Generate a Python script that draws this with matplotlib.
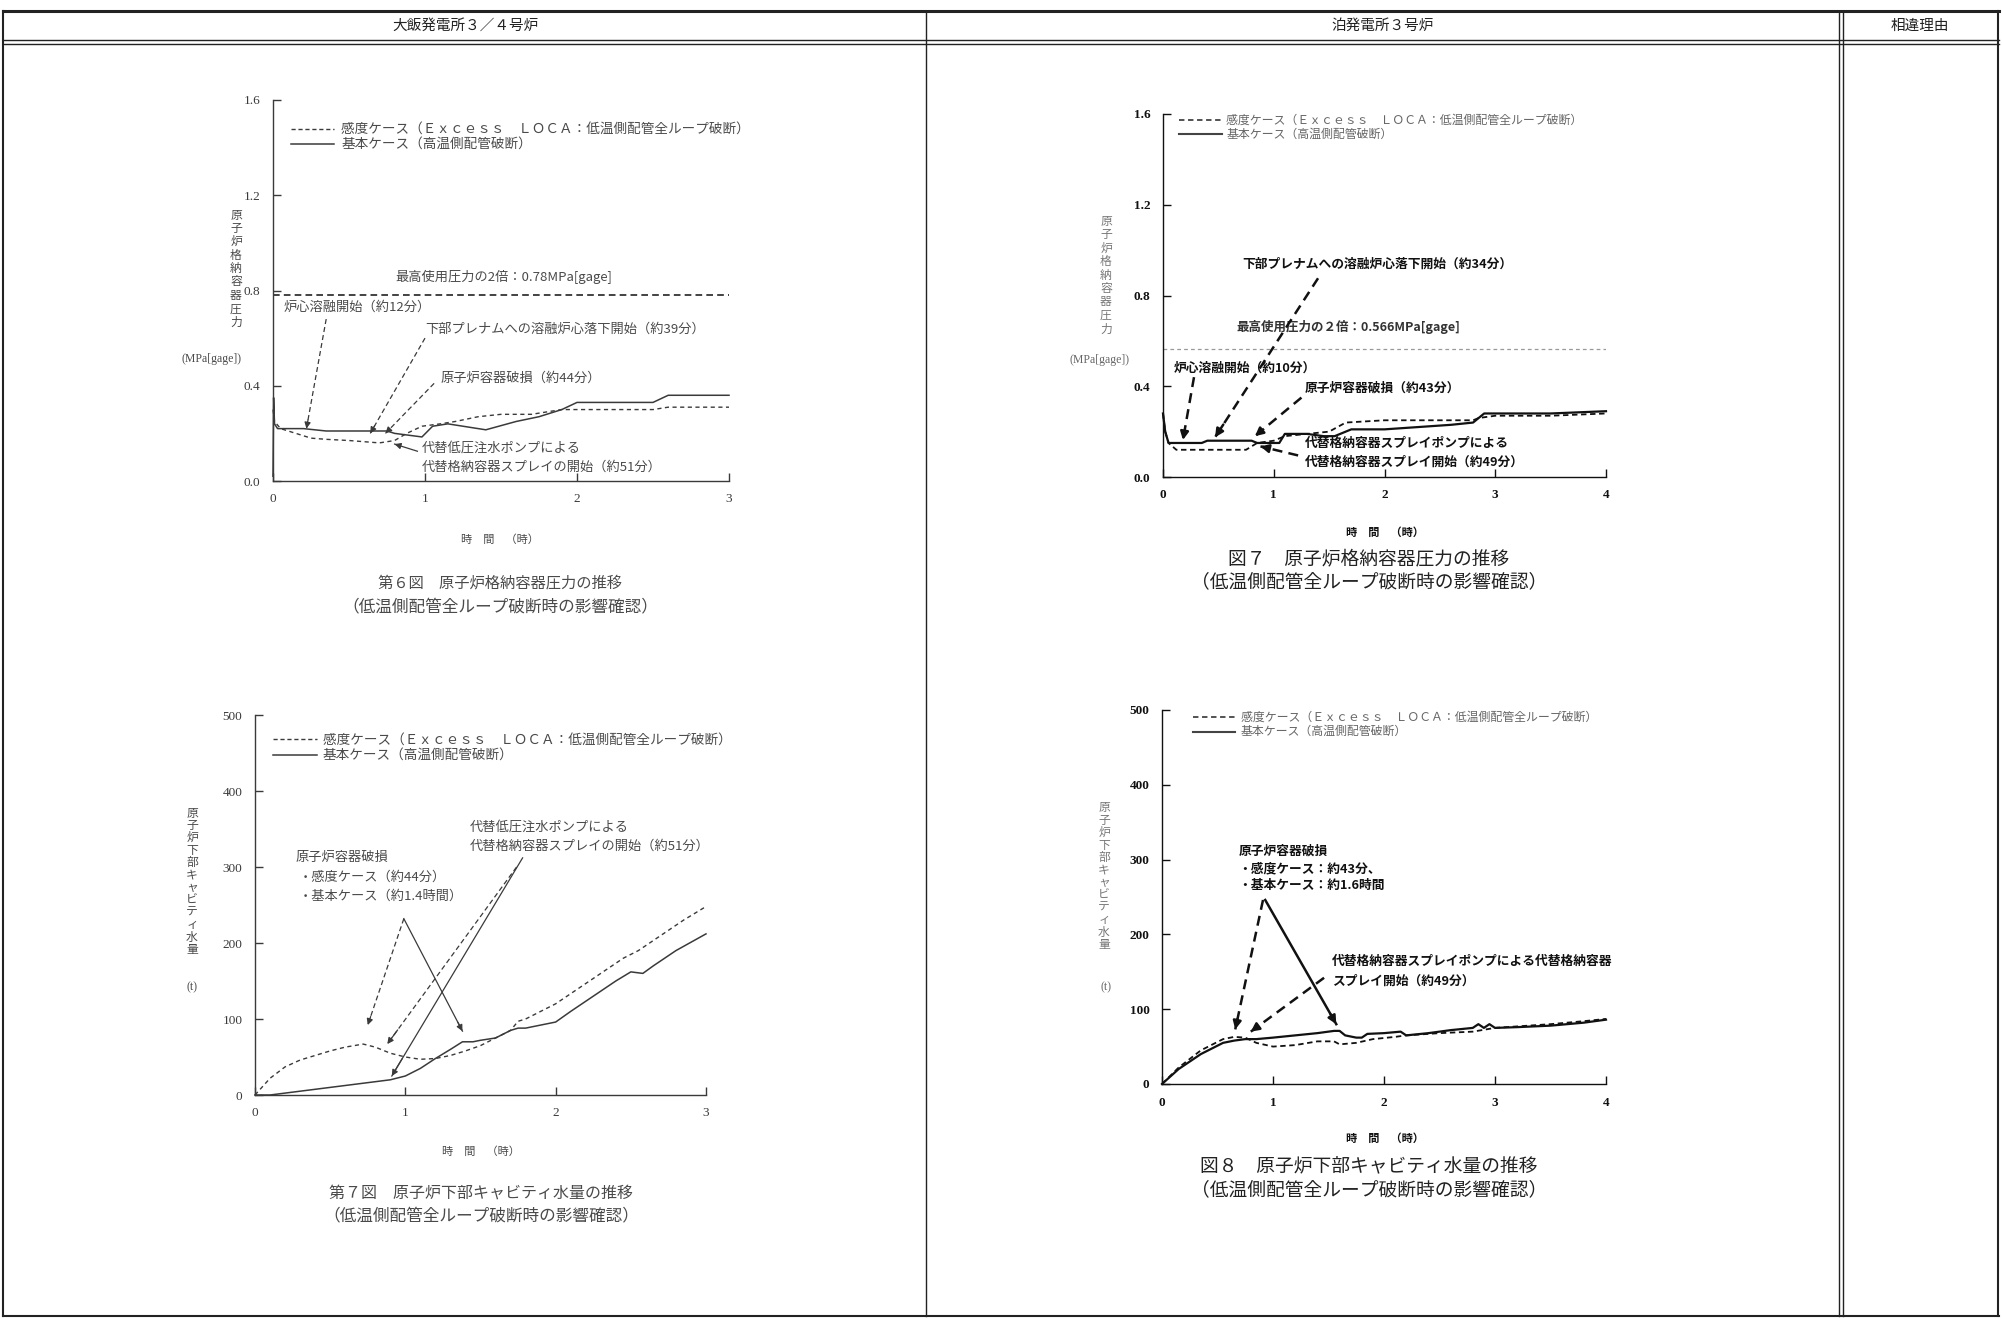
import matplotlib
matplotlib.use("Agg")
import matplotlib.pyplot as plt
from matplotlib.lines import Line2D

plt.rcParams['font.family'] = ['Noto Sans CJK JP', 'DejaVu Sans']

W, H = 2002, 1319

# ---------------- data ----------------
# 大飯 pressure (第6図)
oi_p_base_t = [0, 0.004, 0.01, 0.03, 0.2, 0.35, 0.75, 0.8, 0.98, 1.05, 1.15, 1.25, 1.4, 1.6, 1.75, 1.9, 2.0, 2.5, 2.6, 3.0]
oi_p_base = [0.02, 0.35, 0.24, 0.22, 0.22, 0.21, 0.21, 0.20, 0.185, 0.23, 0.24, 0.23, 0.215, 0.25, 0.27, 0.30, 0.33, 0.33, 0.36, 0.36]
oi_p_sens_t = [0, 0.01, 0.05, 0.15, 0.25, 0.35, 0.5, 0.7, 0.8, 0.88, 0.98, 1.1, 1.2, 1.35, 1.5, 1.7, 1.9, 2.0, 2.5, 2.6, 3.0]
oi_p_sens = [0.30, 0.25, 0.22, 0.20, 0.18, 0.175, 0.17, 0.16, 0.17, 0.20, 0.23, 0.24, 0.25, 0.27, 0.28, 0.28, 0.30, 0.30, 0.30, 0.31, 0.31]
oi_p_limit = 0.78

# 泊 pressure (図7)
to_p_base_t = [0, 0.02, 0.05, 0.35, 0.4, 0.8, 0.85, 1.05, 1.1, 1.3, 1.45, 1.55, 1.7, 2.0, 2.3, 2.6, 2.8, 2.9, 3.5, 4.0]
to_p_base = [0.28, 0.20, 0.15, 0.15, 0.16, 0.16, 0.15, 0.15, 0.19, 0.19, 0.18, 0.18, 0.21, 0.21, 0.22, 0.23, 0.24, 0.28, 0.28, 0.29]
to_p_sens_t = [0, 0.02, 0.05, 0.12, 0.75, 0.85, 1.0, 1.1, 1.3, 1.5, 1.65, 2.0, 2.8, 2.85, 3.0, 3.5, 4.0]
to_p_sens = [0.28, 0.20, 0.15, 0.12, 0.12, 0.15, 0.16, 0.18, 0.19, 0.20, 0.24, 0.25, 0.25, 0.26, 0.27, 0.27, 0.28]
to_p_limit = 0.566

# 大飯 cavity water (第7図)
oi_w_sens_t = [0, 0.1, 0.2, 0.3, 0.4, 0.5, 0.6, 0.72, 0.8, 0.9, 1.0, 1.1, 1.2, 1.3, 1.4, 1.5, 1.6, 1.7, 1.75, 1.8, 1.85, 1.95, 2.0, 2.15, 2.3, 2.45, 2.55, 2.7, 2.85, 3.0]
oi_w_sens = [0, 22, 37, 46, 52, 58, 63, 67, 63, 55, 50, 47, 48, 52, 58, 65, 75, 85, 97, 100, 105, 115, 120, 140, 160, 180, 190, 210, 230, 248]
oi_w_base_t = [0, 0.1, 0.3, 0.5, 0.7, 0.9, 1.0, 1.1, 1.2, 1.3, 1.38, 1.45, 1.5, 1.6, 1.7, 1.75, 1.8, 1.9, 2.0, 2.1, 2.25, 2.4, 2.5, 2.58, 2.65, 2.8, 3.0]
oi_w_base = [0, 0, 5, 10, 15, 20, 25, 35, 48, 60, 70, 70, 72, 75, 85, 88, 88, 92, 96, 110, 130, 150, 162, 160, 170, 190, 212]

# 泊 cavity water (図8)
to_w_base_t = [0, 0.15, 0.35, 0.55, 0.65, 0.75, 0.85, 1.0, 1.2, 1.4, 1.55, 1.6, 1.65, 1.75, 1.8, 1.85, 2.0, 2.15, 2.2, 2.4, 2.6, 2.8, 2.85, 2.9, 2.95, 3.0, 3.2, 3.5, 3.8, 4.0]
to_w_base = [0, 20, 40, 55, 58, 60, 60, 62, 65, 68, 71, 71, 65, 62, 62, 67, 68, 70, 65, 68, 72, 75, 80, 75, 80, 75, 76, 78, 82, 86]
to_w_sens_t = [0, 0.15, 0.35, 0.55, 0.65, 0.75, 0.85, 1.0, 1.2, 1.4, 1.55, 1.6, 1.75, 1.9, 2.1, 2.2, 2.5, 2.8, 3.0, 3.2, 3.5, 3.8, 4.0]
to_w_sens = [0, 22, 45, 60, 63, 62, 55, 50, 52, 57, 57, 53, 55, 60, 63, 65, 68, 70, 75, 77, 80, 84, 87]

p_ticks = [0.0, 0.4, 0.8, 1.2, 1.6]
p_ticklabels = ['0.0', '0.4', '0.8', '1.2', '1.6']
w_ticks = [0, 100, 200, 300, 400, 500]
x3_ticks = [0, 1, 2, 3]
x4_ticks = [0, 1, 2, 3, 4]

header_cols = ['大飯発電所３／４号炉', '泊発電所３号炉', '相違理由']
legend_sens = '感度ケース（Ｅｘｃｅｓｓ　ＬＯＣＡ：低温側配管全ループ破断）'
legend_base = '基本ケース（高温側配管破断）'

# ---------------- figure ----------------
fig = plt.figure(figsize=(W / 100, H / 100), dpi=100)


def fx(px):
    return px / W


def fy(py):
    return 1 - py / H


def hline(y, x0, x1, lw=1.0, color='#222'):
    fig.add_artist(Line2D([fx(x0), fx(x1)], [fy(y), fy(y)], lw=lw, color=color))


def vline(x, y0, y1, lw=1.0, color='#222'):
    fig.add_artist(Line2D([fx(x), fx(x)], [fy(y0), fy(y1)], lw=lw, color=color))


# table frame
hline(11, 3, 1999, lw=2.2)
hline(40, 3, 1999, lw=1.0)
hline(44, 3, 1999, lw=1.0)
hline(1316, 3, 1999, lw=1.5)
vline(3, 11, 1316, lw=1.5)
vline(1998, 11, 1316, lw=1.5)
vline(926, 11, 1316, lw=1.0)
vline(1839, 11, 1316, lw=1.0)
vline(1843, 11, 1316, lw=1.0)

fig.text(fx(465), fy(26), header_cols[0], ha='center', va='center', fontsize=10.5, color='#222')
fig.text(fx(1383), fy(26), header_cols[1], ha='center', va='center', fontsize=10.5, color='#222')
fig.text(fx(1920), fy(26), header_cols[2], ha='center', va='center', fontsize=10.5, color='#222')


def make_ax(l, r, t, b, color, lw):
    ax = fig.add_axes([fx(l), fy(b), fx(r) - fx(l), fy(t) - fy(b)])
    ax.set_facecolor('none')
    for s in ('top', 'right'):
        ax.spines[s].set_visible(False)
    for s in ('left', 'bottom'):
        ax.spines[s].set_color(color)
        ax.spines[s].set_linewidth(lw)
    ax.tick_params(direction='in', length=6, width=lw, colors=color,
                   labelcolor=color)
    return ax


def arrow(ax, tail, head, color, lw, dashed, ms=10):
    ls = (0, (4, 2.5)) if dashed else '-'
    ax.plot([tail[0], head[0]], [tail[1], head[1]], color=color, lw=lw,
            linestyle=ls, clip_on=False, zorder=4)
    bx = head[0] + (tail[0] - head[0]) * 0.08
    by = head[1] + (tail[1] - head[1]) * 0.08
    ax.annotate('', xy=head, xytext=(bx, by),
                arrowprops=dict(arrowstyle='-|>', color=color, lw=lw,
                                mutation_scale=ms, shrinkA=0, shrinkB=0),
                zorder=5, annotation_clip=False)


def vert_text(x, y_first, step, s, color, size):
    for i, ch in enumerate(s):
        fig.text(fx(x), fy(y_first + i * step), ch, ha='center', va='center',
                 fontsize=size, color=color)


serif = ['Liberation Serif', 'DejaVu Serif']

# ===== Top-left: 大飯 pressure =====
gl = '#3a3a3a'
gt = '#4a4a4a'
ax = make_ax(273, 729, 100, 481, gl, 1.0)
ax.set_xlim(0, 3)
ax.set_ylim(0, 1.6)
ax.set_xticks(x3_ticks)
ax.set_yticks(p_ticks)
ax.set_yticklabels(p_ticklabels)
for lab in ax.get_xticklabels() + ax.get_yticklabels():
    lab.set_family(serif)
    lab.set_fontsize(9.5)
ax.tick_params(axis='x', pad=9)
ax.tick_params(axis='y', pad=9)
ax.plot(oi_p_base_t, oi_p_base, color=gl, lw=1.1, clip_on=False)
ax.plot(oi_p_sens_t, oi_p_sens, color=gl, lw=1.0, linestyle=(0, (3, 2.5)), clip_on=False)
ax.plot([0, 3], [oi_p_limit, oi_p_limit], color='#222', lw=1.2, linestyle=(0, (4, 2.5)))
ax.text(1.52, 0.856, '最高使用圧力の2倍：0.78MPa[gage]', ha='center', va='center', fontsize=9.5, color=gt)
ax.plot([0.12, 0.40], [1.48, 1.48], color=gl, lw=1.0, linestyle=(0, (3, 2)))
ax.plot([0.12, 0.40], [1.417, 1.417], color=gl, lw=1.1)
ax.text(0.45, 1.48, legend_sens, va='center', fontsize=9.8, color=gt)
ax.text(0.45, 1.417, legend_base, va='center', fontsize=9.8, color=gt)
ax.text(0.07, 0.73, '炉心溶融開始（約12分）', va='center', fontsize=9.5, color=gt)
arrow(ax, (0.35, 0.68), (0.22, 0.22), gl, 0.9, True, 9)
ax.text(1.0, 0.636, '下部プレナムへの溶融炉心落下開始（約39分）', va='center', fontsize=9.5, color=gt)
arrow(ax, (1.0, 0.60), (0.64, 0.20), gl, 0.9, True, 9)
ax.text(1.1, 0.433, '原子炉容器破損（約44分）', va='center', fontsize=9.5, color=gt)
arrow(ax, (1.06, 0.41), (0.74, 0.20), gl, 0.9, True, 9)
ax.text(0.98, 0.139, '代替低圧注水ポンプによる', va='center', fontsize=9.5, color=gt)
ax.text(0.98, 0.059, '代替格納容器スプレイの開始（約51分）', va='center', fontsize=9.5, color=gt)
arrow(ax, (0.95, 0.125), (0.80, 0.155), gl, 0.9, False, 9)
vert_text(236, 215, 13.4, '原子炉格納容器圧力', gt, 8.5)
fig.text(fx(212), fy(359), '(MPa[gage])', ha='center', va='center', fontsize=8.5, color=gt, family=serif)
fig.text(fx(500), fy(540), '時　間　（時）', ha='center', va='center', fontsize=8, color=gt)
fig.text(fx(500), fy(583), '第６図　原子炉格納容器圧力の推移', ha='center', va='center', fontsize=11, color=gt)
fig.text(fx(500), fy(607), '（低温側配管全ループ破断時の影響確認）', ha='center', va='center', fontsize=12, color=gt)

# ===== Top-right: 泊 pressure =====
bk = '#111111'
ax = make_ax(1163, 1606, 114, 477, bk, 1.0)
ax.set_xlim(0, 4)
ax.set_ylim(0, 1.6)
ax.set_xticks(x4_ticks)
ax.set_yticks(p_ticks)
ax.set_yticklabels(p_ticklabels)
for lab in ax.get_xticklabels() + ax.get_yticklabels():
    lab.set_family(serif)
    lab.set_fontsize(9.5)
    lab.set_fontweight('bold')
ax.tick_params(axis='x', pad=9)
ax.tick_params(axis='y', pad=9)
ax.plot(to_p_base_t, to_p_base, color=bk, lw=1.6, clip_on=False)
ax.plot(to_p_sens_t, to_p_sens, color=bk, lw=1.3, linestyle=(0, (3, 2)), clip_on=False)
ax.plot([0, 4], [to_p_limit, to_p_limit], color='#999', lw=0.9, linestyle=(0, (3, 2.5)))
ax.text(0.66, 0.66, '最高使用圧力の２倍：0.566MPa[gage]', va='center', fontsize=9, color='#333', fontweight='bold')
ax.plot([0.14, 0.53], [1.572, 1.572], color='#444', lw=1.3, linestyle=(0, (3, 2)))
ax.plot([0.14, 0.53], [1.512, 1.512], color='#444', lw=1.5)
ax.text(0.57, 1.572, legend_sens, va='center', fontsize=8.6, color='#666')
ax.text(0.57, 1.512, legend_base, va='center', fontsize=8.6, color='#666')
ax.text(0.72, 0.94, '下部プレナムへの溶融炉心落下開始（約34分）', va='center', fontsize=9.2, color=bk, fontweight='bold')
arrow(ax, (1.40, 0.876), (0.47, 0.175), bk, 1.8, True, 12)
ax.text(0.1, 0.48, '炉心溶融開始（約10分）', va='center', fontsize=9.2, color=bk, fontweight='bold')
arrow(ax, (0.28, 0.44), (0.18, 0.163), bk, 1.8, True, 12)
ax.text(1.28, 0.39, '原子炉容器破損（約43分）', va='center', fontsize=9.2, color=bk, fontweight='bold')
arrow(ax, (1.25, 0.35), (0.83, 0.18), bk, 1.8, True, 12)
ax.text(1.28, 0.15, '代替格納容器スプレイポンプによる', va='center', fontsize=9.2, color=bk, fontweight='bold')
ax.text(1.28, 0.067, '代替格納容器スプレイ開始（約49分）', va='center', fontsize=9.2, color=bk, fontweight='bold')
arrow(ax, (1.22, 0.095), (0.88, 0.135), bk, 1.8, True, 12)
vert_text(1106, 221, 13.5, '原子炉格納容器圧力', '#777', 8.5)
fig.text(fx(1099), fy(360), '(MPa[gage])', ha='center', va='center', fontsize=8.5, color='#666', family=serif)
fig.text(fx(1385), fy(532), '時　間　（時）', ha='center', va='center', fontsize=8, color=bk, fontweight='bold')
fig.text(fx(1369), fy(559), '図７　原子炉格納容器圧力の推移', ha='center', va='center', fontsize=13.5, color='#222')
fig.text(fx(1369), fy(582), '（低温側配管全ループ破断時の影響確認）', ha='center', va='center', fontsize=13.5, color='#222')

# ===== Bottom-left: 大飯 cavity water =====
ax = make_ax(255, 706, 715, 1095, gl, 1.0)
ax.set_xlim(0, 3)
ax.set_ylim(0, 500)
ax.set_xticks(x3_ticks)
ax.set_yticks(w_ticks)
for lab in ax.get_xticklabels() + ax.get_yticklabels():
    lab.set_family(serif)
    lab.set_fontsize(9.5)
ax.tick_params(axis='x', pad=9)
ax.tick_params(axis='y', pad=9)
ax.plot(oi_w_base_t, oi_w_base, color=gl, lw=1.1, clip_on=False)
ax.plot(oi_w_sens_t, oi_w_sens, color=gl, lw=1.0, linestyle=(0, (3, 2.5)), clip_on=False)
ax.plot([0.12, 0.41], [468, 468], color=gl, lw=1.0, linestyle=(0, (3, 2)))
ax.plot([0.12, 0.41], [448, 448], color=gl, lw=1.1)
ax.text(0.45, 468, legend_sens, va='center', fontsize=9.8, color=gt)
ax.text(0.45, 448, legend_base, va='center', fontsize=9.8, color=gt)
ax.text(0.27, 312, '原子炉容器破損', va='center', fontsize=9.5, color=gt)
ax.text(0.29, 286, '・感度ケース（約44分）', va='center', fontsize=9.5, color=gt)
ax.text(0.29, 262, '・基本ケース（約1.4時間）', va='center', fontsize=9.5, color=gt)
arrow(ax, (0.99, 232), (0.75, 92), gl, 0.9, True, 9)
arrow(ax, (0.99, 232), (1.38, 84), gl, 0.9, False, 9)
ax.text(1.43, 352, '代替低圧注水ポンプによる', va='center', fontsize=9.5, color=gt)
ax.text(1.43, 327, '代替格納容器スプレイの開始（約51分）', va='center', fontsize=9.5, color=gt)
arrow(ax, (1.74, 300), (0.88, 67), gl, 0.9, True, 9)
arrow(ax, (1.78, 312), (0.91, 25), gl, 0.9, False, 9)
vert_text(192, 813, 12.4, '原子炉下部キャビティ水量', gt, 8.5)
fig.text(fx(192), fy(987), '(t)', ha='center', va='center', fontsize=8.5, color=gt, family=serif)
fig.text(fx(481), fy(1152), '時　間　（時）', ha='center', va='center', fontsize=8, color=gt)
fig.text(fx(481), fy(1193), '第７図　原子炉下部キャビティ水量の推移', ha='center', va='center', fontsize=11.5, color=gt)
fig.text(fx(481), fy(1216), '（低温側配管全ループ破断時の影響確認）', ha='center', va='center', fontsize=12, color=gt)

# ===== Bottom-right: 泊 cavity water =====
ax = make_ax(1162, 1606, 710, 1084, bk, 1.0)
ax.set_xlim(0, 4)
ax.set_ylim(0, 500)
ax.set_xticks(x4_ticks)
ax.set_yticks(w_ticks)
for lab in ax.get_xticklabels() + ax.get_yticklabels():
    lab.set_family(serif)
    lab.set_fontsize(9.5)
    lab.set_fontweight('bold')
ax.tick_params(axis='x', pad=9)
ax.tick_params(axis='y', pad=9)
ax.plot(to_w_base_t, to_w_base, color=bk, lw=1.6, clip_on=False)
ax.plot(to_w_sens_t, to_w_sens, color=bk, lw=1.3, linestyle=(0, (3, 2)), clip_on=False)
ax.plot([0.28, 0.66], [490, 490], color='#444', lw=1.3, linestyle=(0, (3, 2)))
ax.plot([0.28, 0.66], [471, 471], color='#444', lw=1.5)
ax.text(0.71, 490, legend_sens, va='center', fontsize=8.6, color='#666')
ax.text(0.71, 471, legend_base, va='center', fontsize=8.6, color='#666')
ax.text(0.69, 312, '原子炉容器破損', va='center', fontsize=9.2, color=bk, fontweight='bold')
ax.text(0.69, 288, '・感度ケース：約43分、', va='center', fontsize=9.2, color=bk, fontweight='bold')
ax.text(0.69, 266, '・基本ケース：約1.6時間', va='center', fontsize=9.2, color=bk, fontweight='bold')
arrow(ax, (0.91, 246), (0.66, 73), bk, 1.8, True, 12)
arrow(ax, (0.93, 246), (1.57, 80), bk, 1.8, False, 12)
ax.text(1.53, 164, '代替格納容器スプレイポンプによる代替格納容器', va='center', fontsize=9.2, color=bk, fontweight='bold')
ax.text(1.53, 138, 'スプレイ開始（約49分）', va='center', fontsize=9.2, color=bk, fontweight='bold')
arrow(ax, (1.46, 142), (0.80, 70), bk, 1.8, True, 12)
vert_text(1104, 808, 12.4, '原子炉下部キャビティ水量', '#777', 8.5)
fig.text(fx(1106), fy(987), '(t)', ha='center', va='center', fontsize=8.5, color='#666', family=serif)
fig.text(fx(1385), fy(1138), '時　間　（時）', ha='center', va='center', fontsize=8, color=bk, fontweight='bold')
fig.text(fx(1369), fy(1166), '図８　原子炉下部キャビティ水量の推移', ha='center', va='center', fontsize=13.5, color='#222')
fig.text(fx(1369), fy(1190), '（低温側配管全ループ破断時の影響確認）', ha='center', va='center', fontsize=13.5, color='#222')

fig.savefig('out.png', dpi=100, facecolor='white')
